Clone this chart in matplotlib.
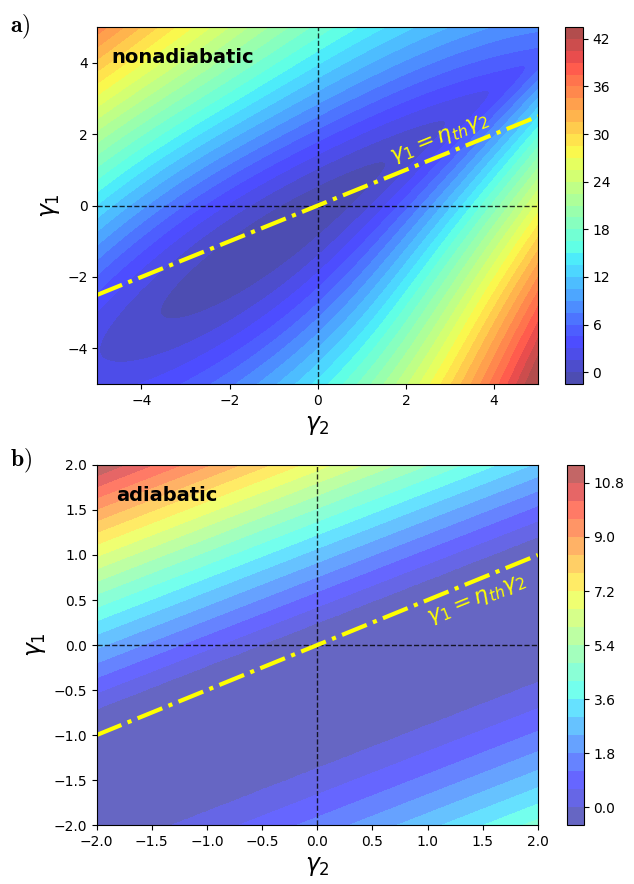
import numpy as np
import matplotlib.pyplot as plt
from matplotlib.colors import ListedColormap

plt.rcParams['mathtext.fontset'] = 'dejavusans'

# efficiency line gamma1 = eta_th * gamma2
eta_th = 0.5

# panel a (nonadiabatic): narrow valley
na_center = (-1.0, -0.95)   # (gamma2, gamma1) of the bottom of the valley
na_slope = 0.85             # slope of the long axis
na_min = -1.1
na_along = 0.10             # curvature along the valley
na_core = 1.4               # rounding of the valley floor
na_core_decay = 0.28        # valley gets narrower towards upper right
na_rise_up = (6.3, -0.35)   # side above the valley: slope, change along valley
na_rise_down = (6.4, 0.42)  # side below the valley
na_levels = np.linspace(-1.5, 43.5, 31)
na_ticks = [0, 6, 12, 18, 24, 30, 36, 42]

# panel b (adiabatic): flat strip, bands parallel to the strip
ad_slope = 0.478
ad_upper = 0.25             # top edge of the flat strip (gamma1 - slope*gamma2)
ad_lower = -1.375           # bottom edge of the flat strip
ad_up_coef = (3.4, 0.3)
ad_low_coef = (1.93, 0.55)
ad_levels = np.linspace(-0.6, 11.4, 21)
ad_ticks = [0.0, 1.8, 3.6, 5.4, 7.2, 9.0, 10.8]


def softplus(x):
    return np.log1p(np.exp(-np.abs(x))) + np.clip(x, 0, None)


def nonadiabatic(g2, g1):
    ang = np.arctan(na_slope)
    dx = g2 - na_center[0]
    dy = g1 - na_center[1]
    p = dx * np.cos(ang) + dy * np.sin(ang)
    q = -dx * np.sin(ang) + dy * np.cos(ang)
    pp = softplus(p)
    core = na_core * np.exp(-na_core_decay * pp)
    up = na_rise_up[0] + na_rise_up[1] * pp
    down = na_rise_down[0] + na_rise_down[1] * p
    w = 0.5 * (1 + np.tanh(q / 0.4))
    rise = w * up + (1 - w) * down
    z = na_min + na_along * p**2 + rise * (np.sqrt(core**2 + q**2) - core)
    return np.clip(z, None, na_levels[-1] - 0.05)


def adiabatic(g2, g1):
    u = g1 - ad_slope * g2
    d_up = np.clip(u - ad_upper, 0, None)
    d_low = np.clip(ad_lower - u, 0, None)
    z = ad_up_coef[0] * d_up + ad_up_coef[1] * d_up**2
    z = z + ad_low_coef[0] * d_low + ad_low_coef[1] * d_low**2
    return np.clip(z - 1e-6, None, ad_levels[-1] - 0.02)


def faded_jet(alpha):
    # jet laid over white, so the bands have no seams
    cols = plt.get_cmap('jet')(np.linspace(0, 1, 256))
    cols[:, :3] = cols[:, :3] * alpha + (1 - alpha)
    return ListedColormap(cols)


fig = plt.figure(figsize=(6.34, 8.84), dpi=100)

panels = [
    dict(lim=5, func=nonadiabatic, levels=na_levels, ticks=na_ticks, alpha=0.7,
         name='nonadiabatic', tag=r'$\mathbf{a)}$',
         ax=[0.1535, 0.5655, 0.6955, 0.404], cax=[0.891, 0.5655, 0.0284, 0.404],
         txt=(2.78, 1.85), tagy=0.970, lx=0.033),
    dict(lim=2, func=adiabatic, levels=ad_levels, ticks=ad_ticks, alpha=0.6,
         name='adiabatic', tag=r'$\mathbf{b)}$',
         ax=[0.1525, 0.0667, 0.696, 0.4073], cax=[0.894, 0.0667, 0.0268, 0.4073],
         txt=(1.45, 0.5), tagy=0.478, lx=0.045),
]

for pn in panels:
    ax = fig.add_axes(pn['ax'])
    cax = fig.add_axes(pn['cax'])
    lim = pn['lim']
    g2 = np.linspace(-lim, lim, 500)
    g1 = np.linspace(-lim, lim, 500)
    G2, G1 = np.meshgrid(g2, g1)
    Z = pn['func'](G2, G1)

    cs = ax.contourf(G2, G1, Z, levels=pn['levels'], cmap=faded_jet(pn['alpha']))
    cb = fig.colorbar(cs, cax=cax)
    cb.set_ticks(pn['ticks'])

    ax.axhline(0, color='k', ls='--', lw=1, alpha=0.8)
    ax.axvline(0, color='k', ls='--', lw=1, alpha=0.8)
    line_x = np.array([-lim, lim])
    ax.plot(line_x, eta_th * line_x, color='yellow', ls='-.', lw=3)
    ax.set_xlim(-lim, lim)
    ax.set_ylim(-lim, lim)

    ax.text(pn['txt'][0], pn['txt'][1], r'$\gamma_1 = \eta_{th}\gamma_2$', color='yellow',
            fontsize=16, rotation=22, ha='center', va='center')
    ax.text(pn['lx'], 0.9, pn['name'], transform=ax.transAxes, fontsize=14,
            fontweight='bold', va='baseline')
    ax.set_xlabel(r'$\gamma_2$', fontsize=17)
    ax.set_ylabel(r'$\gamma_1$', fontsize=17)
    fig.text(0.016, pn['tagy'], pn['tag'], fontsize=17, math_fontfamily='cm', va='center')

fig.savefig('out.png', dpi=100)
